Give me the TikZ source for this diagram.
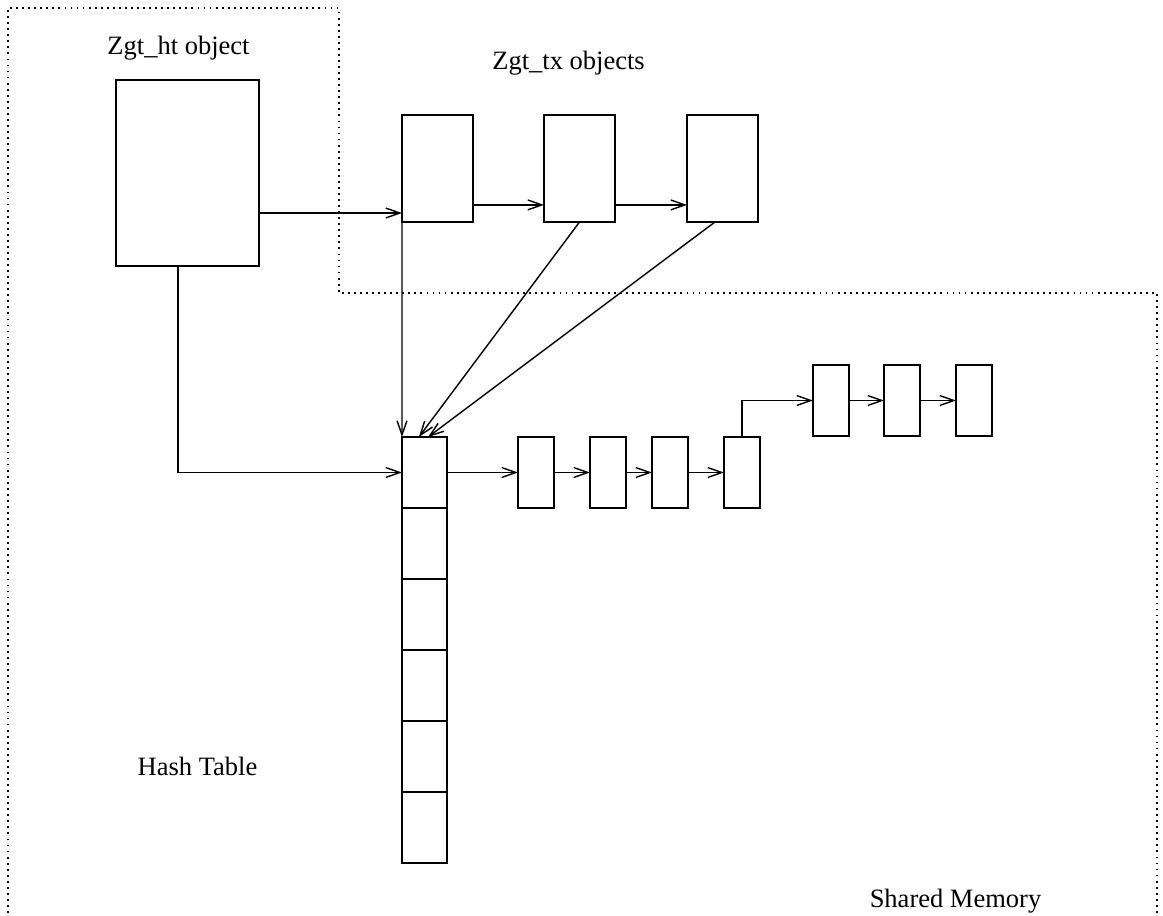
\documentclass[tikz,border=0pt]{standalone}
\usepackage{fontspec}
\setmainfont{Liberation Serif}
\usetikzlibrary{arrows.meta,positioning,calc}

\begin{document}
\begin{tikzpicture}[x=0.025cm, y=-0.025cm,
  every node/.style={font=\fontsize{18.85}{22}\selectfont},
  obj/.style={draw, line width=1.1pt, inner sep=0pt, outer sep=0pt},
  htbox/.style={obj, minimum width=3.575cm, minimum height=4.65cm},
  txbox/.style={obj, minimum width=1.775cm, minimum height=2.675cm},
  cell/.style={obj, minimum width=1.125cm, minimum height=1.775cm},
  entry/.style={obj, minimum width=0.9cm, minimum height=1.775cm},
  lbl/.style={anchor=base, inner sep=0pt},
  region/.style={line width=1.1pt, dash pattern=on 1.3pt off 3pt},
  arr/.style={-{Straight Barb[length=10pt,width=7pt]}, line width=1pt}]

\useasboundingbox (0,0) rectangle (1163,915);

% memory regions
\draw[region] (8,925) -- (8,8) -- (339,8) -- (339,293) -- (1157,293) -- (1157,925);

% labels
\node[lbl] (htlbl) at (178.5,54.5) {Zgt\_ht object};
\node[lbl] (txlbl) at (568.5,69.5) {Zgt\_tx objects};
\node[lbl] (hashlbl) at (197.5,775.5) {Hash Table};
\node[lbl] (shmlbl) at (955.5,907.5) {Shared Memory};

% objects
\node[htbox] (ht) at (187.5,173) {};
\node[txbox] (tx1) at (437.5,168.5) {};
\node[txbox] (tx2) at (579.5,168.5) {};
\node[txbox] (tx3) at (722.5,168.5) {};

% hash table
\node[cell] (h1) at (424.5,472.5) {};
\foreach \i/\j in {2/1,3/2,4/3,5/4,6/5}
  \node[cell, below=0pt of h\j] (h\i) {};

% entries
\node[entry] (e1) at (536,472.5) {};
\node[entry] (e2) at (608,472.5) {};
\node[entry] (e3) at (670,472.5) {};
\node[entry] (e4) at (742,472.5) {};
\node[entry] (e5) at (831,400.5) {};
\node[entry] (e6) at (902,400.5) {};
\node[entry] (e7) at (974,400.5) {};

% links
\draw[arr] ([yshift=-1cm]ht.east) -- ([yshift=-1cm]ht.east -| tx1.west);
\draw[arr] ([yshift=-0.91cm]tx1.east) -- ([yshift=-0.91cm]tx2.west);
\draw[arr] ([yshift=-0.91cm]tx2.east) -- ([yshift=-0.91cm]tx3.west);
\draw[arr] (tx1.south west) -- (h1.north west);
\draw[arr] (tx2.south) -- ([xshift=-0.14cm]h1.north);
\draw[arr] ([xshift=-0.19cm]tx3.south) -- ([xshift=0.09cm]h1.north);
\draw[arr] ([xshift=-0.24cm]ht.south) |- (h1.west);

\draw[arr] (h1.east) -- (e1.west);
\draw[arr] (e1) -- (e2);
\draw[arr] (e2) -- (e3);
\draw[arr] (e3) -- (e4);
\draw[arr] (e4.north) |- (e5.west);
\draw[arr] (e5) -- (e6);
\draw[arr] (e6) -- (e7);
\end{tikzpicture}
\end{document}
